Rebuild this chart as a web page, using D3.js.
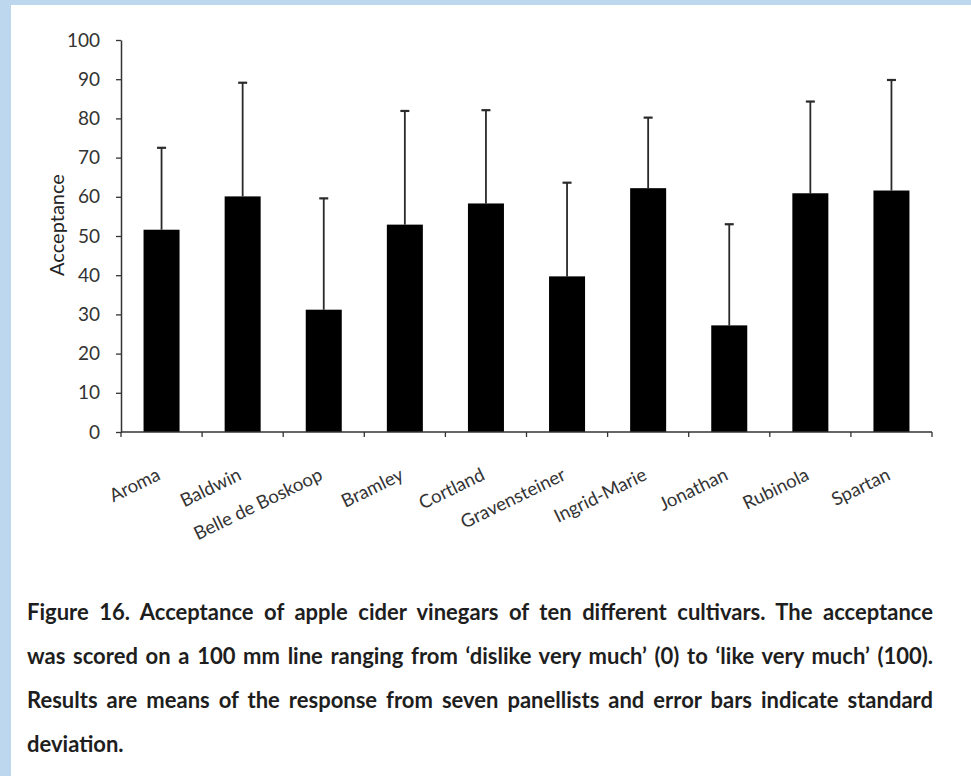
<!DOCTYPE html>
<html>
<head>
<meta charset="utf-8">
<script src="https://cdn.jsdelivr.net/npm/d3@7"></script>
<style>
  html, body { margin: 0; padding: 0; background: #bdd7ee; }
  svg { display: block; }
</style>
</head>
<body>
<svg id="chart" width="971" height="776"></svg>
<script>
// Cultivars and their mean acceptance scores with standard deviations
const cultivars = ["Aroma", "Baldwin", "Belle de Boskoop", "Bramley", "Cortland",
  "Gravensteiner", "Ingrid-Marie", "Jonathan", "Rubinola", "Spartan"];
const meanAcceptance = [51.6, 60.1, 31.2, 52.9, 58.3, 39.7, 62.2, 27.2, 60.9, 61.6];
const stdDev = [20.9, 29.0, 28.4, 29.0, 23.8, 23.9, 18.0, 25.8, 23.4, 28.2];
const yTicks = [0, 10, 20, 30, 40, 50, 60, 70, 80, 90, 100];
const captionLines = [
  "Figure 16. Acceptance of apple cider vinegars of ten different cultivars. The acceptance",
  "was scored on a 100 mm line ranging from \u2018dislike very much\u2019 (0) to \u2018like very much\u2019 (100).",
  "Results are means of the response from seven panellists and error bars indicate standard",
  "deviation."
];

const svg = d3.select("#chart");
const font = "Lato, 'Open Sans', sans-serif";

// white page area inside the blue frame
svg.append("rect").attr("x", 11).attr("y", 5).attr("width", 960).attr("height", 771).attr("fill", "#ffffff");

const plot = { left: 121, right: 932, top: 40, bottom: 432 };

const x = d3.scaleBand()
  .domain(cultivars)
  .range([plot.left, plot.right])
  .paddingInner(0.556)
  .paddingOuter(0.278);

const y = d3.scaleLinear().domain([0, 100]).range([plot.bottom, plot.top]);

const data = cultivars.map((c, i) => ({ name: c, mean: meanAcceptance[i], sd: stdDev[i] }));

// error bars (upper only)
const eb = svg.append("g").attr("stroke", "#2a2a2a").attr("stroke-width", 1.8);
data.forEach(d => {
  const cx = x(d.name) + x.bandwidth() / 2;
  eb.append("line").attr("x1", cx).attr("x2", cx).attr("y1", y(d.mean)).attr("y2", y(d.mean + d.sd));
  eb.append("line").attr("x1", cx - 4.5).attr("x2", cx + 4.5)
    .attr("y1", y(d.mean + d.sd)).attr("y2", y(d.mean + d.sd)).attr("stroke-width", 2.2);
});

// bars
svg.append("g").selectAll("rect").data(data).join("rect")
  .attr("x", d => x(d.name))
  .attr("y", d => y(d.mean))
  .attr("width", x.bandwidth())
  .attr("height", d => y(0) - y(d.mean))
  .attr("fill", "#000");

// y axis
const yAxis = svg.append("g")
  .attr("transform", `translate(${plot.left},0)`)
  .call(d3.axisLeft(y).tickValues(yTicks).tickSize(5).tickSizeOuter(0).tickPadding(16));
yAxis.select(".domain").attr("stroke", "#333").attr("stroke-width", 1.5);
yAxis.selectAll(".tick line").attr("stroke", "#333").attr("stroke-width", 1.3);
yAxis.selectAll(".tick text").attr("font-family", font).attr("font-size", 19).attr("fill", "#333");

// x axis: ticks at category boundaries
const xAxis = svg.append("g").attr("transform", `translate(0,${plot.bottom})`);
xAxis.append("line").attr("x1", plot.left).attr("x2", plot.right).attr("stroke", "#333").attr("stroke-width", 1.5);
d3.range(cultivars.length + 1).forEach(i => {
  const tx = plot.left + i * x.step();
  xAxis.append("line").attr("x1", tx).attr("x2", tx).attr("y1", 0).attr("y2", 5)
    .attr("stroke", "#333").attr("stroke-width", 1.3);
});
xAxis.selectAll("text.cat").data(cultivars).join("text")
  .attr("class", "cat")
  .attr("transform", d => `translate(${x(d) + x.bandwidth() / 2},${47}) rotate(-26)`)
  .attr("text-anchor", "end")
  .attr("font-family", font).attr("font-size", 18.5).attr("fill", "#333")
  .text(d => d);

// y axis title
svg.append("text")
  .attr("transform", `translate(64,225) rotate(-90)`)
  .attr("text-anchor", "middle")
  .attr("font-family", font).attr("font-size", 20).attr("fill", "#222")
  .text("Acceptance");

// caption, justified to the text column
const capLeft = 27, capRight = 933;
const capBase = [620, 664, 708, 752];
captionLines.forEach((line, i) => {
  const t = svg.append("text")
    .attr("x", capLeft).attr("y", capBase[i])
    .attr("font-family", font).attr("font-weight", "bold").attr("font-size", 22)
    .attr("fill", "#1e1e1e")
    .text(line);
  if (i < captionLines.length - 1) {
    const w = t.node().getComputedTextLength();
    const spaces = (line.match(/ /g) || []).length;
    t.attr("word-spacing", (capRight - capLeft - w) / spaces);
  }
});
</script>
</body>
</html>
